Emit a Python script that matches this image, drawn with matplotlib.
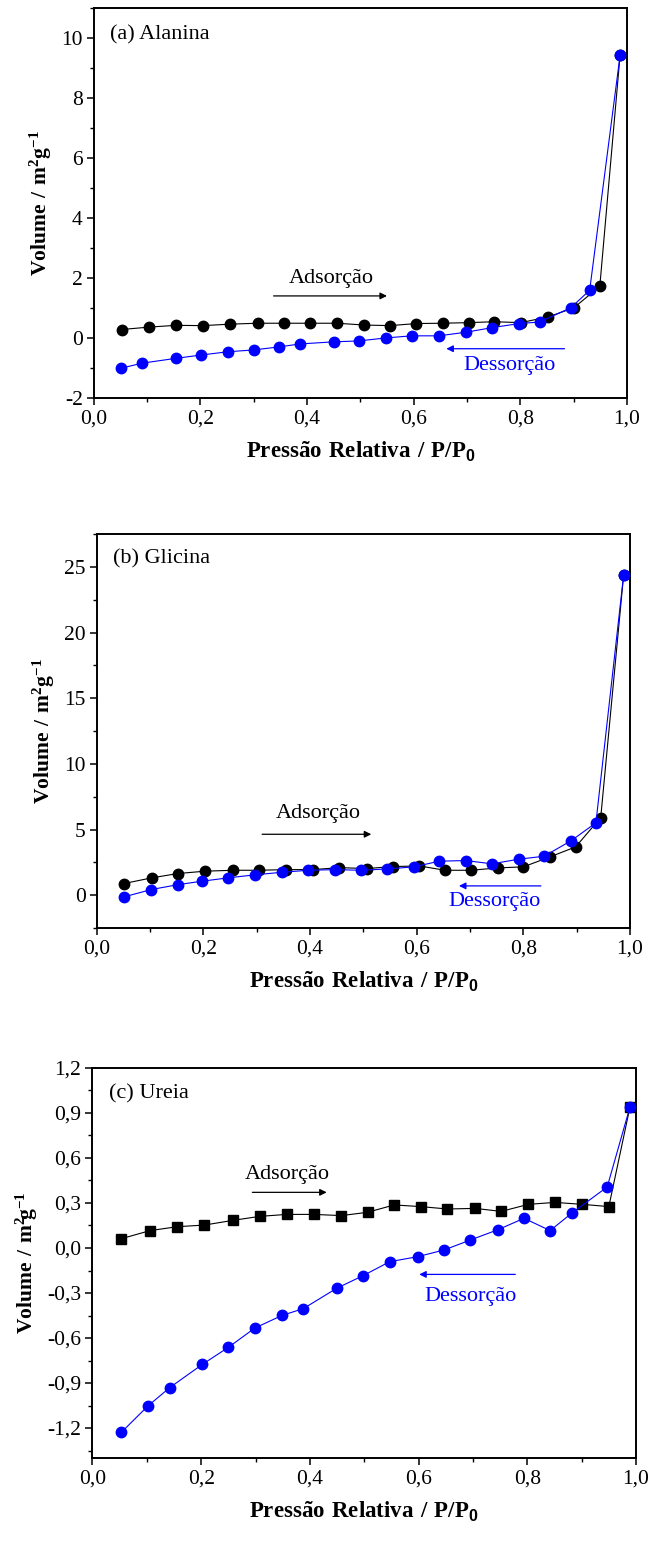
import matplotlib.pyplot as plt
from matplotlib.ticker import MultipleLocator, FuncFormatter

plt.rcParams['font.family'] = ['Liberation Serif', 'DejaVu Serif']
plt.rcParams['mathtext.fontset'] = 'custom'
plt.rcParams['mathtext.rm'] = 'Liberation Serif'
plt.rcParams['mathtext.bf'] = 'Liberation Serif:bold'
plt.rcParams['mathtext.sf'] = 'Liberation Sans:bold'

BLUE = '#0000ff'

# (a) Alanina
a_ads_x = [0.052, 0.103, 0.154, 0.205, 0.256, 0.308, 0.357, 0.405, 0.456, 0.507,
           0.556, 0.605, 0.654, 0.703, 0.751, 0.801, 0.852, 0.900, 0.949, 0.987]
a_ads_y = [0.28, 0.36, 0.42, 0.41, 0.46, 0.49, 0.49, 0.49, 0.49, 0.43,
           0.41, 0.48, 0.49, 0.51, 0.54, 0.51, 0.70, 1.00, 1.72, 9.42]
a_des_x = [0.051, 0.091, 0.154, 0.201, 0.252, 0.300, 0.347, 0.387, 0.450, 0.497,
           0.548, 0.596, 0.647, 0.698, 0.746, 0.798, 0.836, 0.895, 0.930, 0.987]
a_des_y = [-1.01, -0.84, -0.68, -0.57, -0.46, -0.40, -0.30, -0.20, -0.13, -0.10,
           0.00, 0.07, 0.07, 0.19, 0.34, 0.48, 0.53, 1.01, 1.59, 9.42]

# (b) Glicina
b_ads_x = [0.051, 0.103, 0.152, 0.203, 0.256, 0.305, 0.355, 0.405, 0.455, 0.506,
           0.555, 0.605, 0.653, 0.702, 0.752, 0.800, 0.850, 0.898, 0.945, 0.988]
b_ads_y = [0.89, 1.32, 1.65, 1.83, 1.90, 1.90, 1.95, 1.95, 2.10, 2.03,
           2.18, 2.23, 1.90, 1.90, 2.08, 2.16, 2.92, 3.68, 5.91, 24.4]
b_des_x = [0.051, 0.102, 0.153, 0.198, 0.246, 0.296, 0.348, 0.397, 0.447, 0.495,
           0.545, 0.595, 0.642, 0.692, 0.741, 0.791, 0.839, 0.890, 0.936, 0.988]
b_des_y = [-0.13, 0.43, 0.81, 1.07, 1.32, 1.55, 1.75, 1.90, 1.95, 1.90,
           2.00, 2.16, 2.59, 2.64, 2.39, 2.74, 2.97, 4.16, 5.51, 24.4]

# (c) Ureia
c_ads_x = [0.053, 0.106, 0.156, 0.206, 0.258, 0.308, 0.358, 0.407, 0.458, 0.506,
           0.555, 0.604, 0.653, 0.704, 0.752, 0.802, 0.851, 0.901, 0.950, 0.989]
c_ads_y = [0.062, 0.116, 0.142, 0.153, 0.184, 0.211, 0.224, 0.224, 0.216, 0.238,
           0.287, 0.276, 0.260, 0.264, 0.244, 0.291, 0.304, 0.291, 0.276, 0.942]
c_des_x = [0.053, 0.102, 0.142, 0.202, 0.250, 0.299, 0.349, 0.388, 0.449, 0.498,
           0.547, 0.598, 0.647, 0.695, 0.746, 0.794, 0.842, 0.882, 0.947, 0.989]
c_des_y = [-1.229, -1.053, -0.931, -0.776, -0.662, -0.533, -0.449, -0.404, -0.269, -0.184,
           -0.091, -0.058, -0.013, 0.053, 0.122, 0.198, 0.116, 0.233, 0.407, 0.942]

panels = [
    dict(rect=[0.1445, 0.7426, 0.8216, 0.2523], title='(a) Alanina', title_y=10.1,
         ads=(a_ads_x, a_ads_y), des=(a_des_x, a_des_y), marker='o',
         ylim=(-2, 11), major=2, minor=1, fmt='{:.0f}',
         ads_txt=(0.445, 1.98), ads_arr=(0.332, 0.555, 1.40),
         des_txt=(0.779, -0.93), des_arr=(0.888, 0.656, -0.36),
         ylabel=r'$\mathbf{Volume\ /\ m^{2}g^{-1}}$'),
    dict(rect=[0.149, 0.3997, 0.8218, 0.2549], title='(b) Glicina', title_y=25.6,
         ads=(b_ads_x, b_ads_y), des=(b_des_x, b_des_y), marker='o',
         ylim=(-2.5, 27.5), major=5, minor=2.5, fmt='{:.0f}',
         ads_txt=(0.416, 6.2), ads_arr=(0.305, 0.520, 4.64),
         des_txt=(0.745, -0.5), des_arr=(0.838, 0.674, 0.71),
         ylabel=r'$\mathbf{Volume\ /\ m^{2}g^{-1}}$'),
    dict(rect=[0.1425, 0.0569, 0.8375, 0.2523], title='(c) Ureia', title_y=1.03,
         ads=(c_ads_x, c_ads_y), des=(c_des_x, c_des_y), marker='s',
         ylim=(-1.4, 1.2), major=0.3, minor=0.15, fmt='{:.1f}',
         ads_txt=(0.358, 0.487), ads_arr=(0.289, 0.436, 0.371),
         des_txt=(0.695, -0.324), des_arr=(0.783, 0.596, -0.176),
         ylabel=r'$\mathbf{Volume\ /\ m^{\mathbf{2}}\!g^{\mathbf{-1}}}$'),
]

fig = plt.figure(figsize=(6.49, 15.46), dpi=100)

for p in panels:
    ax = fig.add_axes(p['rect'])
    ax.plot(p['ads'][0], p['ads'][1], color='black', marker=p['marker'],
            markersize=7.5 if p['marker'] == 'o' else 7, linewidth=0.8, zorder=3)
    ax.plot(p['des'][0], p['des'][1], color=BLUE, marker='o',
            markersize=7.5, linewidth=0.8, zorder=4)

    ax.set_xlim(0, 1.0)
    ax.set_ylim(*p['ylim'])
    ax.xaxis.set_major_locator(MultipleLocator(0.2))
    ax.xaxis.set_minor_locator(MultipleLocator(0.1))
    ax.yaxis.set_major_locator(MultipleLocator(p['major']))
    ax.yaxis.set_minor_locator(MultipleLocator(p['minor']))
    ax.xaxis.set_major_formatter(FuncFormatter(lambda v, pos: '{:.1f}'.format(v).replace('.', ',')))
    fmt = p['fmt']
    ax.yaxis.set_major_formatter(FuncFormatter(
        lambda v, pos, fmt=fmt: fmt.format(0 if abs(v) < 1e-9 else v).replace('.', ',')))
    ax.tick_params(which='both', direction='out', top=False, right=False, labelsize=15.5)
    ax.tick_params(which='major', length=5, width=1.1, pad=3)
    ax.tick_params(which='minor', length=3, width=1.0)
    for s in ax.spines.values():
        s.set_linewidth(1.4)

    ax.text(0.03, p['title_y'], p['title'], fontsize=16, ha='left', va='center')
    ax.text(p['ads_txt'][0], p['ads_txt'][1], 'Adsorção', fontsize=16, ha='center', va='center')
    x0, x1, y = p['ads_arr']
    ax.annotate('', xy=(x1, y), xytext=(x0, y),
                arrowprops=dict(arrowstyle='-|>', color='black', lw=0.9, mutation_scale=10))
    ax.text(p['des_txt'][0], p['des_txt'][1], 'Dessorção', fontsize=16, color=BLUE,
            ha='center', va='center')
    x0, x1, y = p['des_arr']
    ax.annotate('', xy=(x1, y), xytext=(x0, y),
                arrowprops=dict(arrowstyle='-|>', color=BLUE, lw=0.9, mutation_scale=10))

    ax.set_xlabel(r'$\mathbf{Press\tilde{a}o\ Relativa\ /\ P/P}_{\mathsf{0}}$', fontsize=16.5, labelpad=8)
    ax.set_ylabel(p['ylabel'], fontsize=15.5, labelpad=5)

fig.savefig('out.png', dpi=100)
